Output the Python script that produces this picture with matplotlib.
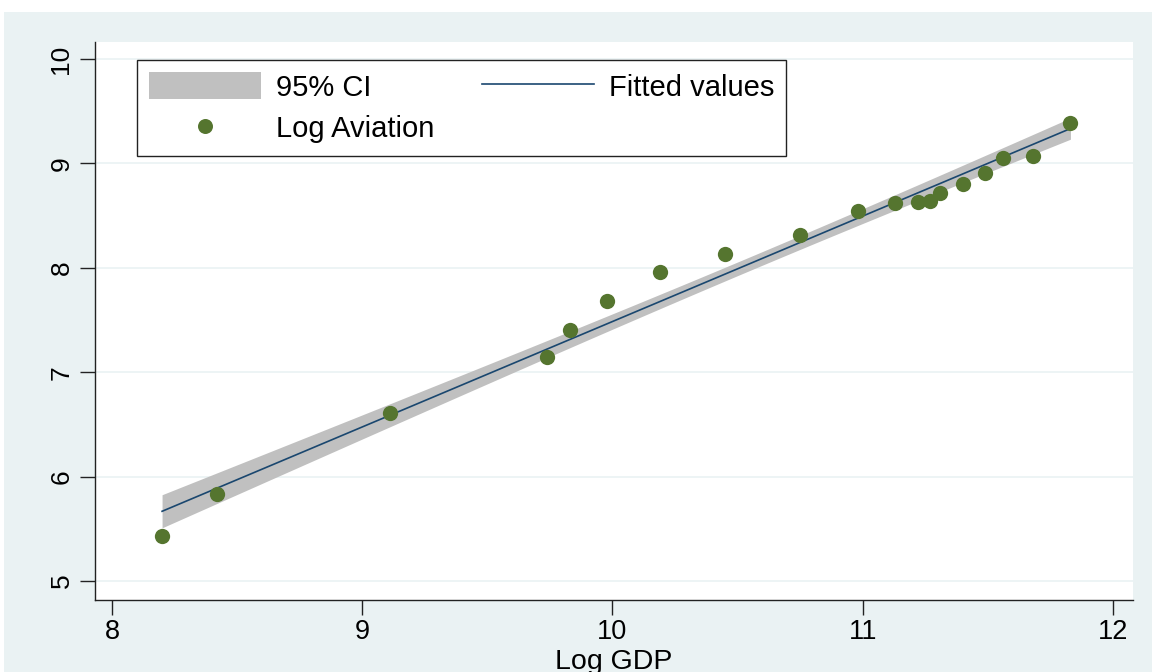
import numpy as np
import matplotlib
matplotlib.use("Agg")
import matplotlib.pyplot as plt
from matplotlib.patches import Patch, Rectangle
from matplotlib.lines import Line2D

plt.rcParams["font.family"] = ["Liberation Sans", "DejaVu Sans"]

# Observations: log GDP vs log aviation
log_gdp = [8.20, 8.42, 9.11, 9.74, 9.83, 9.98, 10.19, 10.45, 10.75, 10.98,
           11.13, 11.22, 11.27, 11.31, 11.40, 11.49, 11.56, 11.68, 11.83]
log_aviation = [5.43, 5.83, 6.61, 7.15, 7.40, 7.68, 7.96, 8.13, 8.31, 8.54,
                8.62, 8.63, 8.64, 8.72, 8.80, 8.91, 9.05, 9.07, 9.39]

x_ticks = [8, 9, 10, 11, 12]
y_ticks = [5, 6, 7, 8, 9, 10]

navy = "#1a476f"
forest_green = "#55752f"
ci_gray = "#c0c0c0"
region_bg = "#eaf2f3"

x = np.asarray(log_gdp)
y = np.asarray(log_aviation)

# OLS fit with 95% confidence band for the mean prediction
n = len(x)
slope, intercept = np.polyfit(x, y, 1)
resid = y - (intercept + slope * x)
s = np.sqrt(np.sum(resid ** 2) / (n - 2))
sxx = np.sum((x - x.mean()) ** 2)
t_crit = 2.110  # t(0.975, 17)
grid = np.linspace(x.min(), x.max(), 200)
fit = intercept + slope * grid
half = t_crit * s * np.sqrt(1.0 / n + (grid - x.mean()) ** 2 / sxx)

fig = plt.figure(figsize=(11.52, 6.72), dpi=100, facecolor="white")
fig.patches.append(Rectangle((4 / 1152, 0), 1, 1 - 12 / 672,
                             transform=fig.transFigure, facecolor=region_bg,
                             edgecolor="none", zorder=-5))

ax = fig.add_axes([95 / 1152, 1 - 600 / 672, 1038 / 1152, 558 / 672])
ax.set_facecolor("white")

for yt in y_ticks:
    ax.axhline(yt, color=region_bg, lw=1.2, zorder=1)

ax.fill_between(grid, fit - half, fit + half, color=ci_gray, lw=0, zorder=2)
ax.plot(grid, fit, color=navy, lw=1.2, zorder=3)
ax.plot(x, y, "o", color=forest_green, markersize=11, markeredgewidth=0, zorder=4)

ax.set_xlim(7.932, 12.08)
ax.set_ylim(4.818, 10.163)
ax.set_xticks(x_ticks)
ax.set_yticks(y_ticks)
ax.set_xticklabels([str(v) for v in x_ticks], fontsize=19.5)
ax.set_yticklabels([str(v) for v in y_ticks], fontsize=19, rotation=90, va="center")
ax.tick_params(axis="both", direction="out", length=11, width=1, color="#222222")
ax.tick_params(axis="x", pad=3)
ax.tick_params(axis="y", pad=4.5)

for side in ("top", "right"):
    ax.spines[side].set_visible(False)
for side in ("left", "bottom"):
    ax.spines[side].set_color("#222222")
    ax.spines[side].set_linewidth(1)

ax.set_xlabel("Log GDP", fontsize=20.5)
ax.xaxis.set_label_coords(0.5, -0.0878)

handles = [
    Patch(facecolor=ci_gray, edgecolor="none"),
    Line2D([], [], marker="o", color=forest_green, linestyle="none",
           markersize=10.8, markeredgewidth=0),
    Line2D([], [], color=navy, lw=1.2),
]
labels = ["95% CI", "Log Aviation", "Fitted values"]
leg = ax.legend(handles, labels, ncol=2, loc="upper left",
                bbox_to_anchor=(0.0405, 0.9677), borderaxespad=0,
                fontsize=21, frameon=True, fancybox=False, shadow=False,
                handlelength=3.84, handleheight=1.05, handletextpad=0.51,
                columnspacing=1.62, borderpad=0.42, labelspacing=0.42)
leg.get_frame().set_edgecolor("#222222")
leg.get_frame().set_linewidth(1)
leg.get_frame().set_facecolor("white")
leg.get_frame().set_alpha(1)

fig.savefig("out.png", dpi=100, facecolor=fig.get_facecolor())
